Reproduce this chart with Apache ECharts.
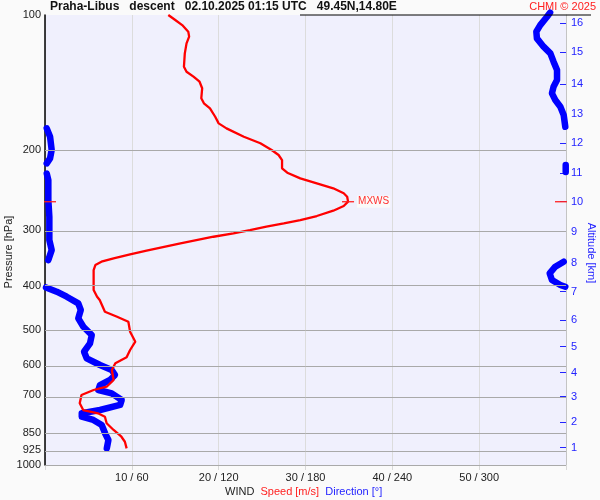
<!DOCTYPE html>
<html><head><meta charset="utf-8">
<script src="https://cdn.jsdelivr.net/npm/echarts@6/dist/echarts.min.js"></script>
<style>html,body{margin:0;padding:0;background:#fafafa}#c{width:600px;height:500px}</style>
</head><body><div id="c"></div>
<script>
// Wind speed profile (hPa, m/s)
const speedPressure = [100,102.6,105.3,108.9,111.7,115.6,121.7,130.3,133.7,137.1,140.7,145.5,153.1,157.1,161.2,168.3,174.1,178.6,186.4,192.8,199.5,204.7,210.1,219.1,224.1,230.7,236.6,242.7,249.0,253.4,259.9,265.7,272.2,279.7,285.5,290.4,295.4,300.5,305.6,311.0,321.6,334.1,340.3,347.3,353.4,359.4,368.7,408.4,422.7,429.9,456.4,468.3,480.5,505.6,532.1,555.2,576.4,594.3,615.0,647.4,669.9,681.3,699.0,729.4,754.8,767.6,781.0,807.8,836.0,865.3,887.7,918.3];
const speedValues = [14.2,15.0,15.8,16.5,16.6,16.3,16.1,16.0,16.3,17.1,17.8,18.1,18.0,18.3,19.0,19.6,20.0,20.9,22.9,24.8,26.1,26.9,27.3,27.3,27.9,29.4,31.3,33.2,34.4,34.8,34.9,34.4,33.2,31.3,29.4,27.5,25.5,23.6,21.7,19.4,15.6,11.7,9.8,7.9,6.5,5.8,5.6,5.6,6.0,6.3,6.9,8.3,9.6,9.8,10.4,9.8,9.4,8.1,7.7,7.9,7.1,5.6,4.2,4.0,4.4,6.1,6.9,7.1,7.9,8.8,9.2,9.4];
// Wind direction profile (hPa, degrees)
const dirPressure = [98.8,100.9,105.3,108.9,112.7,117.6,121.7,127.0,132.5,139.5,144.3,149.3,154.5,159.9,166.8,177.1,178.6,186.4,199.5,208.3,213.6,215.4,223.4,225.1,232.6,257.7,280.7,316.2,333.0,350.4,353.4,362.5,375.0,388.1,398.1,401.6,403.2,412.0,422.7,437.2,452.4,472.1,492.9,514.3,536.6,560.1,579.3,599.5,615.0,631.0,647.4,664.2,681.3,693.0,717.0,735.5,754.8,767.6,781.0,794.3,814.9,850.4,880.2,918.3];
const dirValues = [349,346.9,342.2,339.5,339.9,344.5,349.2,351.4,353.8,353.8,351.4,350.3,352.6,356.1,358.4,359.5,1.2,3.5,4.6,3.5,1.2,359.8,359.8,1.2,2.3,2.3,3.0,3.0,4.6,2.3,358.4,352.6,348.7,350.3,356.1,359.5,0.7,8.1,15.0,23.0,24.7,23.0,26.5,32.3,31.1,27.0,28.8,38.0,46.1,48.4,44.9,38.0,36.9,46.1,53.0,51.9,38.0,25.4,25.4,33.4,39.2,41.5,43.8,42.7];
// Axes
const pressureTicks = [100,200,300,400,500,600,700,850,925,1000];
const pressureGrid = [200,300,400,500,600,700,850,925,1000];
const altitudeKm = [1,2,3,4,5,6,7,8,9,10,11,12,13,14,15,16];
const altitudePressure = [915,804,705,623.5,546,476,412,356.3,303,259.9,224.8,192.8,166,142.3,121,104.3];
const speedTicks = [10,20,30,40,50];
const mxwsSpeed = 34.9;
const mxwsPressure = 260;

const L = Math.log10;
const speedData = speedPressure.map((p,i)=>[speedValues[i], L(p)]);
const dirData = [];
for (let i=0;i<dirPressure.length;i++){
  if (i>0 && Math.abs(dirValues[i]-dirValues[i-1])>180) dirData.push(['-','-']);
  dirData.push([dirValues[i], L(dirPressure[i])]);
}
const BLUE = '#2323ff';
const chart = echarts.init(document.getElementById('c'), null, {renderer:'canvas'});
chart.setOption({
  backgroundColor:'#fafafa',
  animation:false,
  grid:{left:45,right:34,top:15,bottom:35,show:true,backgroundColor:'#f0f0fd',borderWidth:0},
  xAxis:[{
    type:'value',min:0,max:60,interval:10,
    axisLine:{show:false},
    axisTick:{show:true,length:5,lineStyle:{color:'#d8d8d8'}},
    splitLine:{show:true,lineStyle:{color:'#dcdcdc',width:1}},
    axisLabel:{fontFamily:'Liberation Sans',fontSize:11,color:'#222',margin:7,
      formatter:v=>speedTicks.indexOf(v)>=0 ? v+' / '+(v*6) : ''}
  },{
    type:'value',min:0,max:360,show:false
  }],
  yAxis:[{
    type:'value',min:2,max:3,inverse:true,position:'left',
    axisLine:{show:true,onZero:false,lineStyle:{color:'#000',width:1.5}},
    axisTick:{show:false},
    splitLine:{show:false},
    axisLabel:{customValues:pressureTicks.map(L),fontFamily:'Liberation Sans',fontSize:11,color:'#222',margin:4,
      formatter:v=>String(Math.round(Math.pow(10,v)))}
  },{
    type:'value',min:2,max:3,inverse:true,position:'right',
    axisLine:{show:true,onZero:false,lineStyle:{color:'#c4c4c4',width:1}},
    axisTick:{show:true,inside:true,length:6,customValues:altitudePressure.map(L),lineStyle:{color:BLUE,width:1}},
    splitLine:{show:false},
    axisLabel:{customValues:altitudePressure.map(L),fontFamily:'Liberation Sans',fontSize:11,color:BLUE,margin:5,
      formatter:function(v){
        let b=0;
        for(let i=0;i<altitudePressure.length;i++){
          if(Math.abs(L(altitudePressure[i])-v)<Math.abs(L(altitudePressure[b])-v)) b=i;
        }
        return String(altitudeKm[b]);
      }}
  }],
  series:[{
    type:'line',data:[],xAxisIndex:0,yAxisIndex:0,z:1,silent:true,
    markLine:{silent:true,symbol:'none',label:{show:false},
      lineStyle:{color:'#a9a9a9',width:1,type:'solid'},
      data:pressureGrid.map(p=>({yAxis:L(p)}))}
  },{
    type:'line',data:dirData,xAxisIndex:1,yAxisIndex:0,z:3,showSymbol:false,connectNulls:false,clip:false,
    lineStyle:{color:'#0000ff',width:6.5,cap:'round',join:'round'}
  },{
    type:'line',data:speedData,xAxisIndex:0,yAxisIndex:0,z:4,showSymbol:false,
    lineStyle:{color:'#ff0000',width:2.3},
    markPoint:{silent:true,symbol:'rect',symbolSize:[12,1.3],itemStyle:{color:'#ff2020'},
      label:{show:false},
      data:[
        {coord:[mxwsSpeed,L(mxwsPressure)],
         label:{show:true,position:'right',distance:3,formatter:'MXWS',color:'#ff3030',fontSize:10,
           fontFamily:'Liberation Sans',backgroundColor:'#fafafa',padding:[1,1]}},
        {coord:[0,L(mxwsPressure)],symbolOffset:[5,0]},
        {coord:[60,L(mxwsPressure)],symbolOffset:[-5,0]}
      ]}
  }],
  graphic:[
    {type:'line',z:10,shape:{x1:300,y1:15,x2:591,y2:15},style:{stroke:'#000',lineWidth:1.2}},
    {type:'text',x:50,y:7,style:{text:'Praha-Libus   descent   02.10.2025 01:15 UTC   49.45N,14.80E',
      font:'bold 12px "Liberation Sans"',fill:'#111',verticalAlign:'middle',align:'left'}},
    {type:'text',x:596,y:7,style:{text:'CHMI © 2025',font:'11px "Liberation Sans"',fill:'#ff2020',
      verticalAlign:'middle',align:'right'}},
    {type:'text',x:8.5,y:252,rotation:Math.PI/2,style:{text:'Pressure [hPa]',font:'11px "Liberation Sans"',
      fill:'#222',align:'center',verticalAlign:'middle'}},
    {type:'text',x:591,y:253,rotation:-Math.PI/2,style:{text:'Altitude [km]',font:'11px "Liberation Sans"',
      fill:BLUE,align:'center',verticalAlign:'middle'}},
    {type:'text',x:225,y:492,style:{text:'{a|WIND}  {b|Speed [m/s]}  {c|Direction [°]}',
      font:'11px "Liberation Sans"',verticalAlign:'middle',align:'left',
      rich:{a:{fill:'#222',font:'11px "Liberation Sans"'},b:{fill:'#ff2020',font:'11px "Liberation Sans"'},c:{fill:BLUE,font:'11px "Liberation Sans"'}}}}
  ]
});
</script></body></html>
